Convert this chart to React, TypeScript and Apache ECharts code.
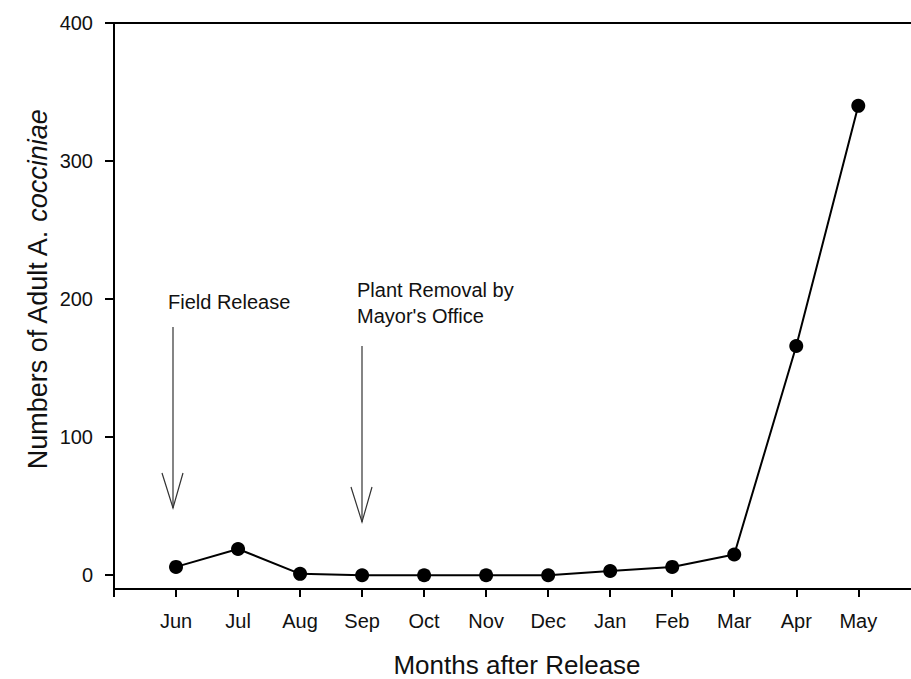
import React, { useEffect, useRef } from "react";
import * as echarts from "echarts";

const months = ["Jun", "Jul", "Aug", "Sep", "Oct", "Nov", "Dec", "Jan", "Feb", "Mar", "Apr", "May"];
const adults = [6, 19, 1, 0, 0, 0, 0, 3, 6, 15, 166, 340];
const yTicks = [0, 100, 200, 300, 400];
const monthPositions = months.map((_, i) => i + 1);

const FONT = "'Liberation Sans', Arial, sans-serif";

export default function App() {
  const ref = useRef<HTMLDivElement>(null);

  useEffect(() => {
    document.body.style.margin = "0";
    if (!ref.current) return;
    const chart = echarts.init(ref.current, null, { renderer: "svg" });
    const axisLineStyle = { color: "#000", width: 2 };
    const option: any = {
      animation: false,
      backgroundColor: "#fff",
      grid: { left: 114, right: 0, top: 23, bottom: 90, containLabel: false },
      xAxis: [
        {
          type: "value",
          min: 0,
          max: 12.85,
          position: "bottom",
          axisLine: { show: true, onZero: false, lineStyle: axisLineStyle },
          axisTick: { show: true, length: 8, lineStyle: axisLineStyle, customValues: monthPositions },
          axisLabel: {
            customValues: monthPositions,
            formatter: (v: number) => months[Math.round(v) - 1] ?? "",
            fontSize: 20,
            margin: 22,
            color: "#111",
            fontFamily: FONT,
          },
          splitLine: { show: false },
        },
        {
          type: "value",
          min: 0,
          max: 12.85,
          position: "top",
          axisLine: { show: true, onZero: false, lineStyle: axisLineStyle },
          axisTick: { show: false },
          axisLabel: { show: false },
          splitLine: { show: false },
        },
      ],
      yAxis: {
        type: "value",
        min: -10,
        max: 400,
        axisLine: { show: true, onZero: false, lineStyle: axisLineStyle },
        axisTick: { show: true, length: 9, lineStyle: axisLineStyle, customValues: yTicks },
        axisLabel: {
          customValues: yTicks,
          fontSize: 20,
          margin: 21,
          color: "#111",
          fontFamily: FONT,
        },
        splitLine: { show: false },
      },
      series: [
        {
          type: "line",
          xAxisIndex: 0,
          data: months.map((_, i) => [i + 1, adults[i]]),
          symbol: "circle",
          symbolSize: 14,
          itemStyle: { color: "#000" },
          lineStyle: { color: "#000", width: 2 },
        },
      ],
      graphic: [
        { type: "line", shape: { x1: 114, y1: 588, x2: 114, y2: 597 }, style: { stroke: "#000", lineWidth: 2 } },
        {
          type: "text",
          x: 38,
          y: 290,
          rotation: Math.PI / 2,
          style: {
            text: "{n|Numbers of Adult A. }{i|cocciniae}",
            align: "center",
            verticalAlign: "middle",
            fill: "#111",
            rich: {
              n: { fontSize: 27, fontFamily: FONT, fill: "#111" },
              i: { fontSize: 27, fontFamily: FONT, fontStyle: "italic", fill: "#111" },
            },
          },
        },
        {
          type: "text",
          x: 517,
          y: 665,
          style: {
            text: "Months after Release",
            fontSize: 26,
            fontFamily: FONT,
            fill: "#111",
            align: "center",
            verticalAlign: "middle",
          },
        },
        {
          type: "text",
          x: 168,
          y: 302,
          style: { text: "Field Release", fontSize: 20, fontFamily: FONT, fill: "#111", align: "left", verticalAlign: "middle" },
        },
        {
          type: "text",
          x: 357,
          y: 303,
          style: {
            text: "Plant Removal by\nMayor's Office",
            fontSize: 20,
            lineHeight: 26,
            fontFamily: FONT,
            fill: "#111",
            align: "left",
            verticalAlign: "middle",
          },
        },
        { type: "line", shape: { x1: 173, y1: 327, x2: 173, y2: 508 }, style: { stroke: "#333", lineWidth: 1.2 } },
        { type: "polyline", shape: { points: [[162, 473], [173, 508], [183, 473]] }, style: { stroke: "#333", lineWidth: 1.2, fill: null } },
        { type: "line", shape: { x1: 362, y1: 346, x2: 362, y2: 522 }, style: { stroke: "#333", lineWidth: 1.2 } },
        { type: "polyline", shape: { points: [[351, 487], [362, 522], [372, 487]] }, style: { stroke: "#333", lineWidth: 1.2, fill: null } },
      ],
    };
    chart.setOption(option);
    return () => chart.dispose();
  }, []);

  return <div ref={ref} style={{ width: 911, height: 679 }} />;
}
